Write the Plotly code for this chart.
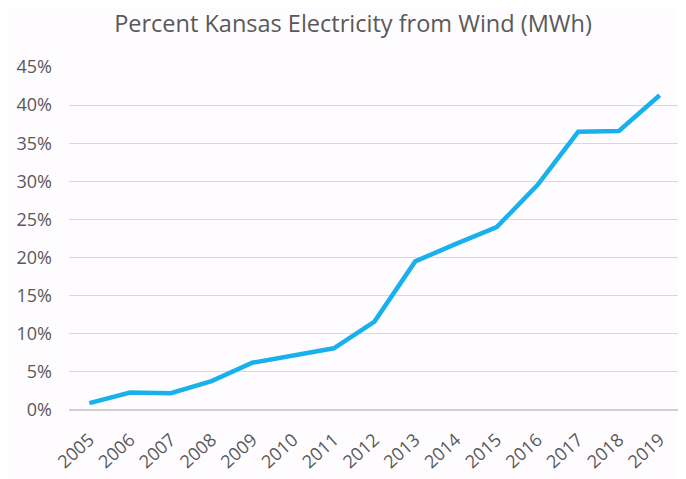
import plotly.graph_objects as go

years = [str(y) for y in range(2005, 2020)]
wind_pct = [0.009, 0.023, 0.022, 0.038, 0.062, 0.071, 0.081, 0.116, 0.195, 0.218, 0.240, 0.295, 0.365, 0.366, 0.413]
y_ticks = [0, 0.05, 0.10, 0.15, 0.20, 0.25, 0.30, 0.35, 0.40, 0.45]

fig = go.Figure(go.Scatter(
    x=years, y=wind_pct, mode="lines",
    line=dict(color="#19b1ec", width=4.5),
    hovertemplate="%{x}: %{y:.1%}<extra></extra>",
))

# page body has an 8px default margin; compensate so the plot lands where the reference is
fig.update_layout(
    width=686, height=479,
    margin=dict(l=61, r=14, t=59, b=77, autoexpand=False),
    paper_bgcolor="#fefcfe", plot_bgcolor="#fefcfe",
    font=dict(family="'Open Sans', sans-serif", color="#595959", size=16),
    title=dict(text="Percent Kansas Electricity from Wind (MWh)",
               x=345 / 686, xref="container", xanchor="center",
               y=1 - 16 / 479, yref="container", yanchor="middle",
               font=dict(size=23.5, color="#595959")),
    showlegend=False,
)
fig.update_xaxes(type="category", range=[-0.5, 14.5], tickangle=-42,
                 showgrid=False, showline=False, ticks="", automargin=False,
                 tickfont=dict(size=18), zeroline=False, ticklabelstandoff=15)
fig.update_yaxes(range=[0, 0.45], tickvals=y_ticks, tickformat=".0%",
                 showgrid=True, gridcolor="#d9d9d9", gridwidth=1, automargin=False,
                 zeroline=True, zerolinecolor="#d0d0d0", zerolinewidth=1.5,
                 ticks="", ticklabelstandoff=16, tickfont=dict(size=18))

fig.write_html("out.html")
